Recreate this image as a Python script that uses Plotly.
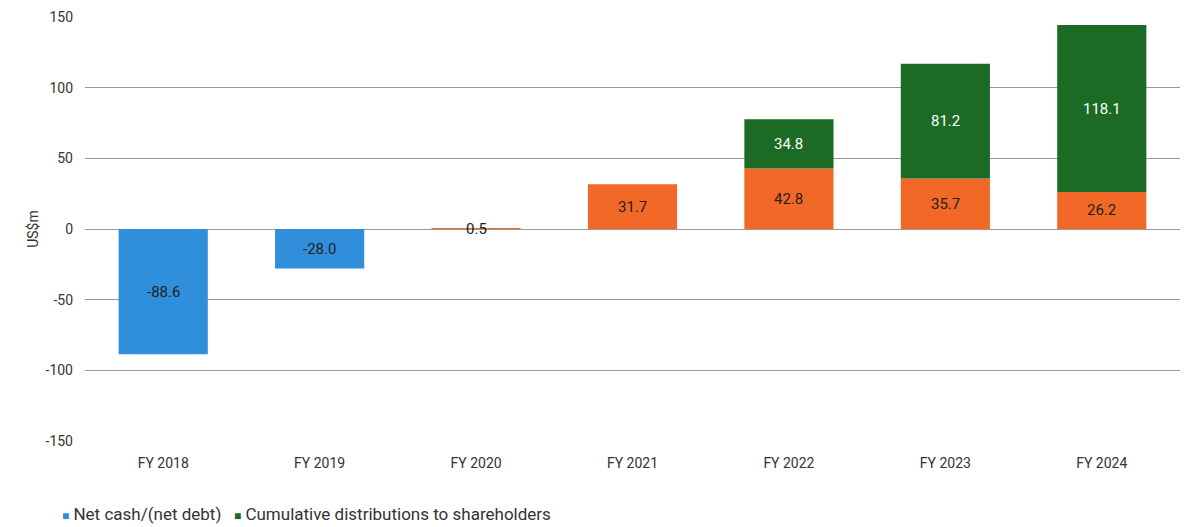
import plotly.graph_objects as go

categories = ["FY 2018", "FY 2019", "FY 2020", "FY 2021", "FY 2022", "FY 2023", "FY 2024"]
net_cash = [-88.6, -28.0, 0.5, 31.7, 42.8, 35.7, 26.2]
distributions = [None, None, None, None, 34.8, 81.2, 118.1]
y_ticks = [-150, -100, -50, 0, 50, 100, 150]
y_tick_labels = ["-150", "-100", "-50", "0", "50", "100", "150"]
legend_names = ["Net cash/(net debt)", "Cumulative distributions to shareholders"]

BLUE = "#2F8FDA"
ORANGE = "#F26826"
GREEN = "#1B6B24"
FONT = "Roboto"

net_colors = [BLUE if v < 0 else ORANGE for v in net_cash]

fig = go.Figure()
fig.add_trace(go.Bar(
    x=categories, y=net_cash, name=legend_names[0],
    marker=dict(color=net_colors, line=dict(width=0)),
))
fig.add_trace(go.Bar(
    x=categories, y=distributions, name=legend_names[1],
    marker=dict(color=GREEN, line=dict(width=0)),
))

# data labels
for c, v in zip(categories, net_cash):
    fig.add_annotation(x=c, y=v / 2, text=f"{v:.1f}", showarrow=False,
                       font=dict(family=FONT, size=15, color="#222222"))
for c, v, d in zip(categories, net_cash, distributions):
    if d is not None:
        fig.add_annotation(x=c, y=v + d / 2, text=f"{d:.1f}", showarrow=False,
                           font=dict(family=FONT, size=15, color="white"))

# legend (compact, as in the original)
legend_html = (
    f"<span style='color:{BLUE};font-size:12px'>■</span> {legend_names[0]}"
    f"&nbsp;&nbsp;&nbsp;<span style='color:{GREEN};font-size:12px'>■</span> {legend_names[1]}"
)
fig.add_annotation(xref="paper", yref="paper", x=-0.023, y=-0.172, xanchor="left", yanchor="middle",
                   text=legend_html, showarrow=False, align="left",
                   font=dict(family=FONT, size=17, color="#333333"))

# the page body adds an 8px offset, so the figure is sized to fit the window
fig.update_layout(
    barmode="relative",
    bargap=0.43,
    width=1182, height=519,
    margin=dict(l=77, r=10, t=9, b=86, autoexpand=False),
    plot_bgcolor="white", paper_bgcolor="white",
    font=dict(family=FONT, size=14, color="#333333"),
    showlegend=False,
    xaxis=dict(showgrid=False, showline=False, ticks="", tickfont=dict(size=14),
               ticklabelstandoff=12),
    yaxis=dict(range=[-150, 150], tickvals=y_ticks, ticktext=y_tick_labels,
               showgrid=True, gridcolor="#999999",
               gridwidth=1, zeroline=True, zerolinecolor="#999999", zerolinewidth=1,
               showline=False, ticks="", ticklabelstandoff=11,
               title=dict(text="US$m", font=dict(size=14), standoff=3),
               tickfont=dict(size=14)),
)

fig.write_html("out.html")
